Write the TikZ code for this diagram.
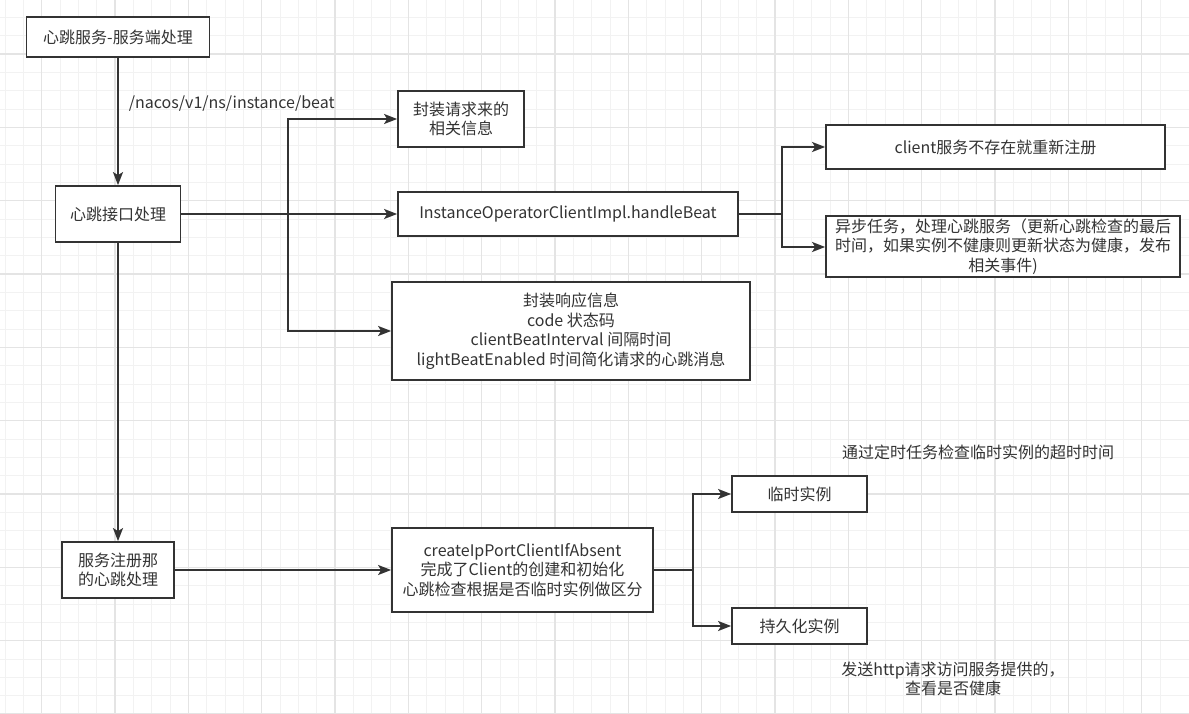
\documentclass[tikz,border=0pt]{standalone}
\usepackage{fontspec}
\setmainfont{Noto Sans CJK SC}
\usetikzlibrary{arrows.meta}
\definecolor{ink}{HTML}{333333}
\definecolor{gridminor}{HTML}{F2F2F2}
\definecolor{gridmajor}{HTML}{E4E4E4}
\tikzset{
  box/.style={draw=ink, line width=1.8pt, fill=white, text=ink, align=center,
    inner sep=0pt, font=\fontsize{16}{19.5}\selectfont},
  conn/.style={draw=ink, line width=1.8pt},
  arr/.style={conn, -{Stealth[length=13pt,width=10pt,inset=3pt]}},
  plain/.style={text=ink, align=center, inner sep=0pt, font=\fontsize{16}{19.5}\selectfont},
}
\begin{document}
\begin{tikzpicture}[x=1pt,y=-1pt]
\useasboundingbox (0,0) rectangle (1189,714);
\fill[white] (0,0) rectangle (1189,714);
% grid
\foreach \i in {0,...,65} {
  \draw[gridminor, line width=0.9pt] ({-31.6+18.333*\i},0) -- ({-31.6+18.333*\i},714);
}
\foreach \i in {0,...,40} {
  \draw[gridminor, line width=0.9pt] (0,{-19.3+18.333*\i}) -- (1189,{-19.3+18.333*\i});
}
\foreach \i in {0,...,16} {
  \draw[gridmajor, line width=1.1pt] ({41.7+73.333*\i},0) -- ({41.7+73.333*\i},714);
}
\foreach \i in {0,...,10} {
  \draw[gridmajor, line width=1.1pt] (0,{-19.3+73.333*\i}) -- (1189,{-19.3+73.333*\i});
}

% nodes
\node[box, minimum width=183pt, minimum height=40pt] (A) at (118,37) {心跳服务-服务端处理};
\node[box, minimum width=125pt, minimum height=56pt] (B) at (118,214) {心跳接口处理};
\node[box, minimum width=126pt, minimum height=56pt] (C) at (461,119) {封装请求来的\\相关信息};
\node[box, minimum width=340pt, minimum height=44pt] (D) at (568,214) {InstanceOperatorClientImpl.handleBeat};
\node[box, minimum width=358pt, minimum height=98pt] (E) at (571,331) {封装响应信息\\code 状态码\\clientBeatInterval 间隔时间\\lightBeatEnabled 时间简化请求的心跳消息};
\node[box, minimum width=339pt, minimum height=44pt] (F) at (995.5,147) {client服务不存在就重新注册};
\node[box, minimum width=354pt, minimum height=61pt] (G) at (1003,246.5) {异步任务，处理心跳服务（更新心跳检查的最后\\时间，如果实例不健康则更新状态为健康，发布\\相关事件)};
\node[box, minimum width=112pt, minimum height=56pt] (K) at (118,570) {服务注册那\\的心跳处理};
\node[box, minimum width=261pt, minimum height=84pt] (H) at (522.5,570) {createIpPortClientIfAbsent\\完成了Client的创建和初始化\\心跳检查根据是否临时实例做区分};
\node[box, minimum width=135pt, minimum height=36pt] (I) at (799.5,494) {临时实例};
\node[box, minimum width=135pt, minimum height=36pt] (J) at (799.5,626) {持久化实例};
\node[plain] (T1) at (978,452) {通过定时任务检查临时实例的超时时间};
\node[plain] (T2) at (953,679) {发送http请求访问服务提供的，\\查看是否健康};

% connectors
\draw[arr] (A.south) -- node[plain, anchor=west, xshift=10pt, pos=0.36] (L1) {/nacos/v1/ns/instance/beat} (B.north);
\coordinate (b1) at (288,214);
\draw[arr] (B.east) -- (D.west);
\draw[arr] (b1) |- (C.west);
\draw[arr] (b1) |- (E.west);
\coordinate (d1) at (782,214);
\draw[conn] (D.east) -- (d1);
\draw[arr] (d1) |- (F.west);
\draw[arr] (d1) |- ([yshift=-0.5pt]G.west);
\draw[arr] (B.south) -- (K.north);
\draw[arr] (K.east) -- (H.west);
\coordinate (h1) at (693,570);
\draw[conn] (H.east) -- (h1);
\draw[arr] (h1) |- (I.west);
\draw[arr] (h1) |- (J.west);
\end{tikzpicture}
\end{document}
